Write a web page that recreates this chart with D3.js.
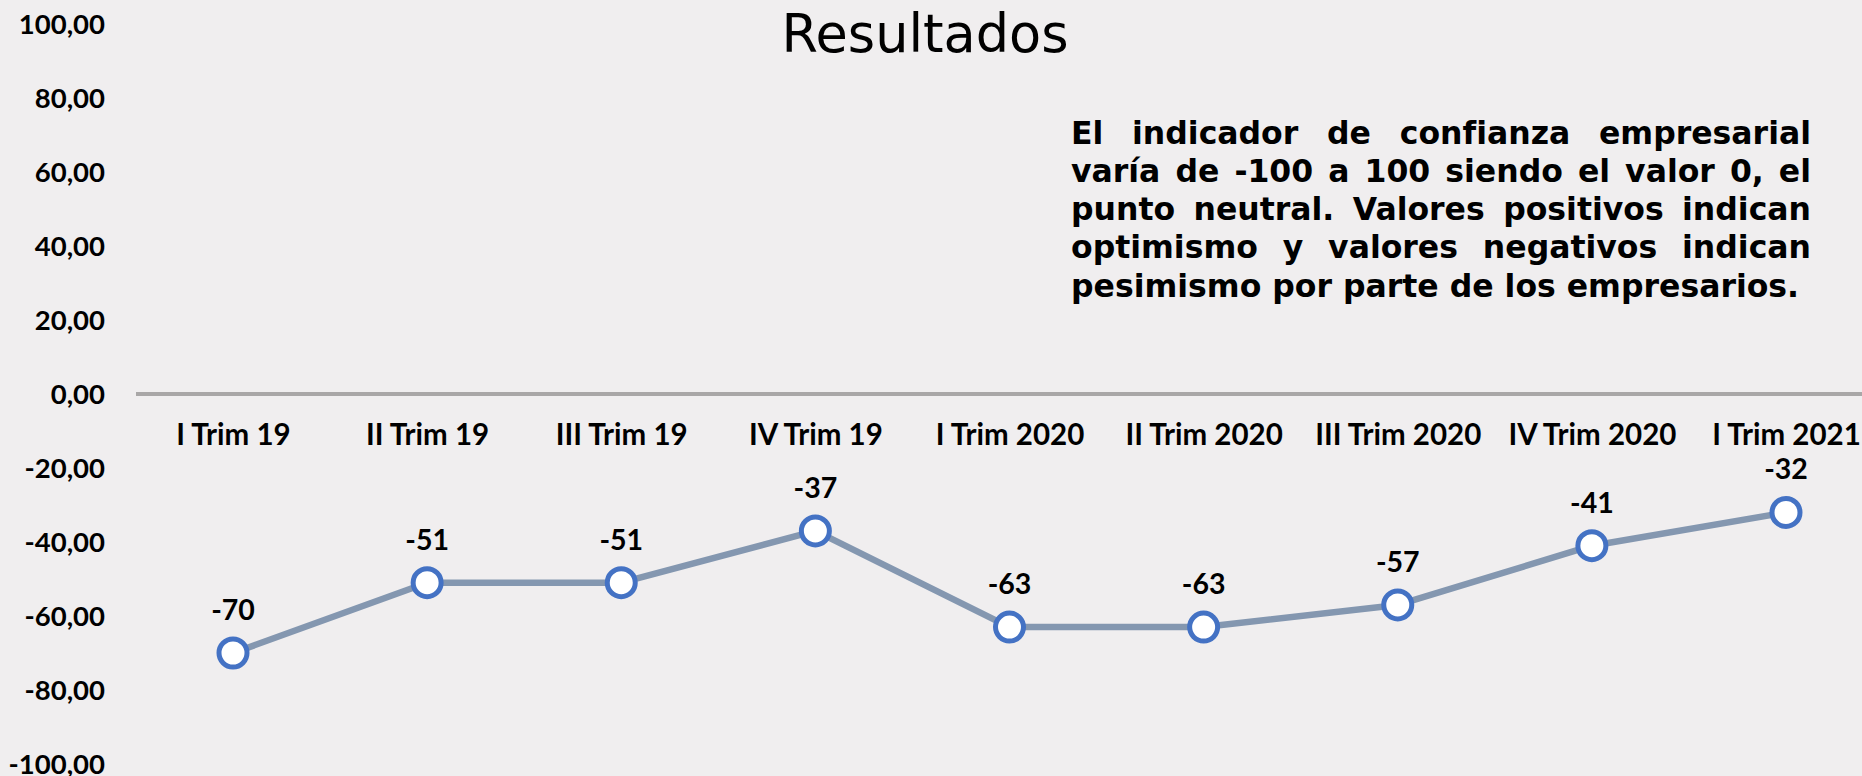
<!DOCTYPE html>
<html lang="es">
<head>
<meta charset="utf-8">
<title>Resultados</title>
<script src="https://cdn.jsdelivr.net/npm/d3@7"></script>
<style>
  html, body { margin: 0; padding: 0; background: #F0EEEF; }
  svg { display: block; }
</style>
</head>
<body>
<svg id="chart" width="1862" height="776"></svg>
<script>
// Indicador de confianza empresarial por trimestre
const categories = ["I Trim 19", "II Trim 19", "III Trim 19", "IV Trim 19",
  "I Trim 2020", "II Trim 2020", "III Trim 2020", "IV Trim 2020", "I Trim 2021"];
const values = [-70, -51, -51, -37, -63, -63, -57, -41, -32];
const yTicks = [100, 80, 60, 40, 20, 0, -20, -40, -60, -80, -100];
const titleText = "Resultados";
const noteLines = [
  "El indicador de confianza empresarial",
  "varía de -100 a 100 siendo el valor 0, el",
  "punto neutral. Valores positivos indican",
  "optimismo y valores negativos indican",
  "pesimismo por parte de los empresarios."
];

const W = 1862, H = 776;
const svg = d3.select("#chart");

svg.append("rect").attr("width", W).attr("height", H).attr("fill", "#F0EEEF");

const y = d3.scaleLinear().domain([-100, 100]).range([764, 24]);
const x = d3.scalePoint().domain(categories).range([233, 1786]);

// Spanish number format with a plain hyphen as minus sign
const esLocale = d3.formatLocale({ decimal: ",", thousands: ".", grouping: [3], currency: ["", "€"], minus: "-" });
const fmtTick = esLocale.format(".2f");
const fmtValue = esLocale.format("d");

const labelFont = "Lato, 'Open Sans', sans-serif";

// Value axis labels (no axis line, no ticks)
const yAxis = svg.append("g")
  .attr("transform", "translate(105,0)")
  .call(d3.axisLeft(y).tickValues(yTicks).tickFormat(fmtTick).tickSize(0).tickPadding(0));
yAxis.select(".domain").remove();
yAxis.selectAll("text")
  .attr("font-family", labelFont)
  .attr("font-weight", "bold")
  .attr("font-size", 27.5)
  .attr("fill", "#000")
  .attr("dy", "0.33em");

// Horizontal axis line at zero
svg.append("line")
  .attr("x1", 136).attr("x2", W)
  .attr("y1", y(0)).attr("y2", y(0))
  .attr("stroke", "#A9A7A7")
  .attr("stroke-width", 4);

// Category labels
const xAxis = svg.append("g")
  .attr("transform", `translate(0,${y(0)})`)
  .call(d3.axisBottom(x).tickSize(0));
xAxis.select(".domain").remove();
xAxis.selectAll("text")
  .attr("font-family", labelFont)
  .attr("font-weight", "bold")
  .attr("font-size", 29.5)
  .attr("fill", "#000")
  .attr("y", 41)
  .attr("dy", "0.35em");

// Series line
const line = d3.line()
  .x((d, i) => x(categories[i]))
  .y(d => y(d));

svg.append("path")
  .datum(values)
  .attr("d", line)
  .attr("fill", "none")
  .attr("stroke", "#8497B0")
  .attr("stroke-width", 6.5)
  .attr("stroke-linejoin", "round");

// Markers
svg.append("g").selectAll("circle")
  .data(values)
  .join("circle")
  .attr("cx", (d, i) => x(categories[i]))
  .attr("cy", d => y(d))
  .attr("r", 14)
  .attr("fill", "#FFFFFF")
  .attr("stroke", "#4472C4")
  .attr("stroke-width", 5);

// Data labels
svg.append("g").selectAll("text")
  .data(values)
  .join("text")
  .attr("x", (d, i) => x(categories[i]))
  .attr("y", d => y(d) - 43)
  .attr("dy", "0.35em")
  .attr("text-anchor", "middle")
  .attr("font-family", labelFont)
  .attr("font-weight", "bold")
  .attr("font-size", 28.5)
  .attr("fill", "#000")
  .text(d => fmtValue(d));

// Title
svg.append("text")
  .attr("x", 925)
  .attr("y", 52)
  .attr("text-anchor", "middle")
  .attr("font-family", "'DejaVu Sans', Verdana, sans-serif")
  .attr("font-size", 52.5)
  .attr("fill", "#000")
  .text(titleText);

// Justified note text block
const noteLeft = 1071, noteRight = 1811, noteTop = 143.5, noteStep = 38.3;
const noteG = svg.append("g")
  .attr("font-family", "'DejaVu Sans', Verdana, sans-serif")
  .attr("font-weight", "bold")
  .attr("font-size", 31.5)
  .attr("fill", "#000");

noteLines.forEach((ln, li) => {
  const words = ln.split(" ");
  const baseY = noteTop + li * noteStep;
  const last = li === noteLines.length - 1;
  const widths = words.map(w => {
    const t = noteG.append("text").text(w);
    const wd = t.node().getComputedTextLength();
    t.remove();
    return wd;
  });
  const spaceT = noteG.append("text").text("a a");
  const aT = noteG.append("text").text("aa");
  const spaceW = spaceT.node().getComputedTextLength() - aT.node().getComputedTextLength();
  spaceT.remove(); aT.remove();
  const total = d3.sum(widths);
  const gap = last ? spaceW : (noteRight - noteLeft - total) / (words.length - 1);
  let cx = noteLeft;
  words.forEach((w, wi) => {
    noteG.append("text").attr("x", cx).attr("y", baseY).text(w);
    cx += widths[wi] + gap;
  });
});
</script>
</body>
</html>
